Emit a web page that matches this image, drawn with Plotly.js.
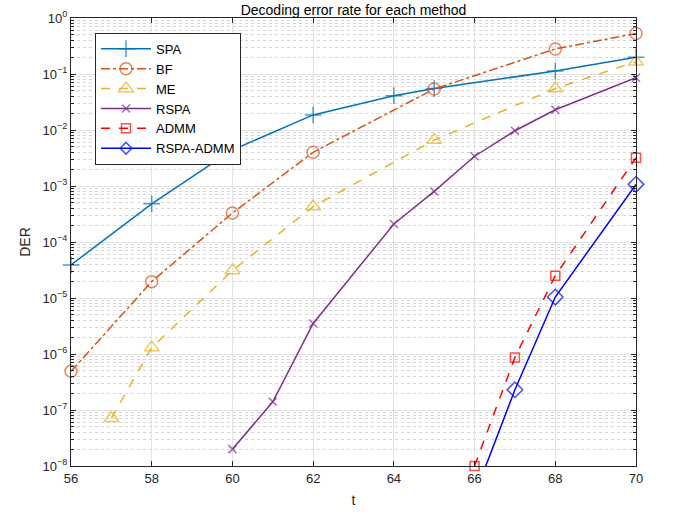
<!DOCTYPE html>
<html>
<head>
<meta charset="utf-8">
<script src="https://cdn.plot.ly/plotly-3.0.1.min.js"></script>
<style>html,body{margin:0;padding:0;background:#fff;}#chart{width:673px;height:512px;}</style>
</head>
<body>
<div id="chart"></div>
<script>
// Data
const spaT = [56, 58, 60, 62, 64, 65, 68, 70];
const spaV = [3.9e-5, 4.8e-4, 4.4e-3, 1.86e-2, 4.1e-2, 5.5e-2, 0.113, 0.2];
const bfT = [56, 58, 60, 62, 65, 68, 70];
const bfV = [4.9e-7, 1.96e-5, 3.3e-4, 4.0e-3, 5.4e-2, 0.28, 0.53];
const meT = [57, 58, 60, 62, 65, 68, 70];
const meV = [7.1e-8, 1.3e-6, 3.1e-5, 4.3e-4, 6.6e-3, 5.5e-2, 0.166];
const rspaT = [60, 61, 62, 64, 65, 66, 67, 68, 70];
const rspaV = [2.0e-8, 1.4e-7, 3.5e-6, 2.1e-4, 8.0e-4, 3.4e-3, 9.7e-3, 2.3e-2, 8.6e-2];
const admmT = [66, 67, 68, 70];
const admmV = [1.0e-8, 8.7e-7, 2.5e-5, 3.2e-3];
const raT = [66, 67, 68, 70];
const raV = [3.0e-9, 2.3e-7, 1.04e-5, 1.07e-3];
const seriesNames = ['SPA', 'BF', 'ME', 'RSPA', 'ADMM', 'RSPA-ADMM'];
const xTicks = [56, 58, 60, 62, 64, 66, 68, 70];
const yTickVals = [1e-8, 1e-7, 1e-6, 1e-5, 1e-4, 1e-3, 1e-2, 1e-1, 1];
const yTickText = ['10<sup>−8</sup>', '10<sup>−7</sup>', '10<sup>−6</sup>', '10<sup>−5</sup>', '10<sup>−4</sup>', '10<sup>−3</sup>', '10<sup>−2</sup>', '10<sup>−1</sup>', '10<sup>0</sup>'];

const FONT = '"Liberation Sans", Arial, sans-serif';
const AX = '#262626';

function tr(x, y, name, color, dash, symbol, msize) {
  // points below the axis range get no marker (the line still runs to the edge)
  const sizes = y.map(v => (v < 1e-8 ? 0 : msize));
  return {
    x: x, y: y, name: name, type: 'scatter', mode: 'lines+markers',
    line: {color: color, width: 1.5, dash: dash},
    marker: {symbol: symbol, size: sizes, color: color, line: {color: color, width: 1.5}},
    cliponaxis: false
  };
}

const data = [
  tr(spaT, spaV, seriesNames[0], '#0072BD', 'solid', 'cross-thin-open', 12),
  tr(bfT, bfV, seriesNames[1], '#D95319', 'dashdot', 'circle-open', 12),
  tr(meT, meV, seriesNames[2], '#EDB120', 'dash', 'triangle-up-open', 13),
  tr(rspaT, rspaV, seriesNames[3], '#7E2F8E', 'solid', 'x-thin-open', 8),
  tr(admmT, admmV, seriesNames[4], '#FF0000', 'dash', 'square-open', 9),
  tr(raT, raV, seriesNames[5], '#0000FF', 'solid', 'diamond-open', 12)
];

const layout = {
  width: 673, height: 512,
  margin: {l: 71, r: 37, t: 18, b: 46},
  paper_bgcolor: '#fff', plot_bgcolor: '#fff',
  font: {family: FONT, size: 13, color: AX},
  title: {text: 'Decoding error rate for each method', font: {family: FONT, size: 14, color: '#000'},
          x: 0.5, xref: 'paper', y: 0.981, yref: 'container', yanchor: 'middle'},
  showlegend: true,
  legend: {
    x: 0.0425, y: 0.967, xanchor: 'left', yanchor: 'top',
    bgcolor: '#fff', bordercolor: AX, borderwidth: 1,
    font: {family: FONT, size: 13, color: '#000'},
    itemwidth: 50, tracegroupgap: 0
  },
  xaxis: {
    title: {text: 't', font: {family: FONT, size: 14, color: AX}, standoff: 10},
    range: [56, 70], tickvals: xTicks, ticktext: xTicks.map(String),
    showline: true, linecolor: AX, linewidth: 1, mirror: 'allticks',
    ticks: 'inside', ticklen: 5, tickcolor: AX,
    showgrid: true, gridcolor: '#e3e3e3', gridwidth: 1, zeroline: false,
    tickfont: {family: FONT, size: 13, color: AX}
  },
  yaxis: {
    title: {text: 'DER', font: {family: FONT, size: 14, color: AX}, standoff: 8},
    type: 'log', range: [-8, 0],
    tickvals: yTickVals, ticktext: yTickText,
    showline: true, linecolor: AX, linewidth: 1, mirror: 'allticks',
    ticks: 'inside', ticklen: 5, tickcolor: AX,
    showgrid: true, gridcolor: '#e3e3e3', gridwidth: 1, zeroline: false,
    tickfont: {family: FONT, size: 13, color: AX},
    minor: {dtick: 'D1', ticks: 'inside', ticklen: 3, tickcolor: AX, showgrid: true, gridcolor: '#d6d6d6', griddash: 'dot', gridwidth: 1}
  }
};

Plotly.newPlot('chart', data, layout, {displayModeBar: false, staticPlot: true});
</script>
</body>
</html>
